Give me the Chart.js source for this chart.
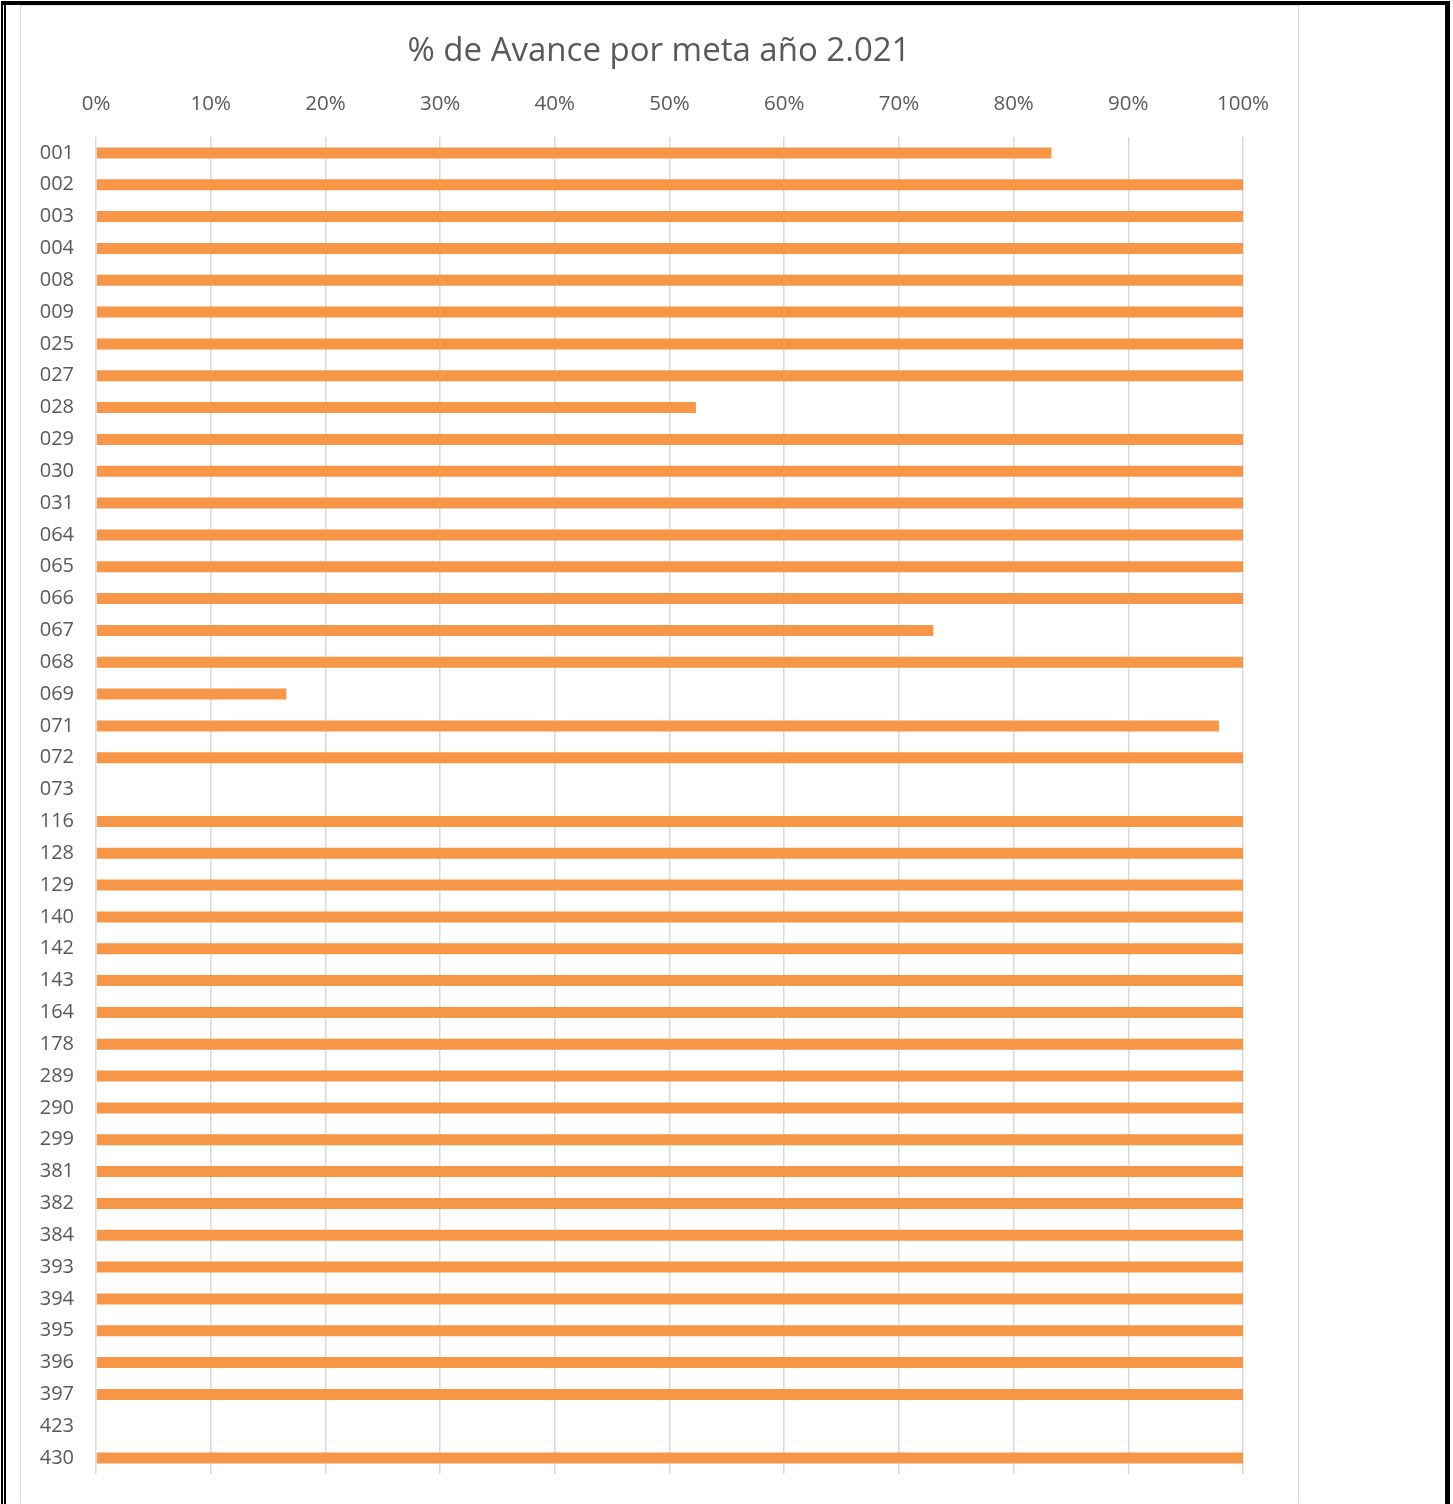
<!DOCTYPE html>
<html>
<head>
<meta charset="utf-8">
<script src="https://cdn.jsdelivr.net/npm/chart.js@4"></script>
<style>
  html, body { margin: 0; padding: 0; background: #fff; }
  body { width: 1453px; height: 1504px; position: relative; overflow: hidden; }
  .b { position: absolute; background: #000; }
  #frame { position: absolute; left: 20px; top: 5px; width: 1279px; height: 1498px; border: 1px solid #d9d9d9; border-bottom: none; box-sizing: border-box; }
  #c { position: absolute; left: 0; top: 0; }
</style>
</head>
<body>
<div class="b" style="left:1px;top:1px;width:1449px;height:4px"></div>
<div class="b" style="left:1px;top:1px;width:2px;height:1503px"></div>
<div class="b" style="left:4px;top:5px;width:2px;height:1499px"></div>
<div class="b" style="left:1445px;top:5px;width:2px;height:1499px"></div>
<div class="b" style="left:1447px;top:1px;width:3px;height:1503px"></div>
<div id="frame"></div>
<canvas id="c" width="1453" height="1504"></canvas>
<script>
const titleText = '% de Avance por meta año 2.021';
const categories = ['001','002','003','004','008','009','025','027','028','029',
  '030','031','064','065','066','067','068','069','071','072',
  '073','116','128','129','140','142','143','164','178','289',
  '290','299','381','382','384','393','394','395','396','397',
  '423','430'];
const avance = [83.3,100,100,100,100,100,100,100,52.3,100,
  100,100,100,100,100,73.0,100,16.6,97.9,100,
  0,100,100,100,100,100,100,100,100,100,
  100,100,100,100,100,100,100,100,100,100,
  0,100];
const xTicks = [0,10,20,30,40,50,60,70,80,90,100];

const FONT = "'Open Sans', 'DejaVu Sans', sans-serif";
const TXT = '#595959';
const TITLE_SIZE = 33;
const TITLE_MID = 52;

const chart = new Chart(document.getElementById('c'), {
  type: 'bar',
  data: {
    labels: categories,
    datasets: [{
      data: avance,
      backgroundColor: '#F79646',
      borderWidth: 0,
      inflateAmount: 0,
      barThickness: 11
    }]
  },
  options: {
    indexAxis: 'y',
    responsive: false,
    animation: false,
    devicePixelRatio: 1,
    layout: { padding: { left: 0, right: 135, top: 0, bottom: 30 } },
    plugins: {
      legend: { display: false },
      tooltip: { enabled: false },
      title: {
        display: true,
        text: titleText,
        color: TXT,
        font: { family: FONT, size: TITLE_SIZE, weight: 'normal', lineHeight: 1.2 },
        padding: { top: TITLE_MID - TITLE_SIZE * 0.6, bottom: 0 }
      }
    },
    scales: {
      x: {
        position: 'top',
        min: 0, max: 100,
        afterBuildTicks: (s) => { s.ticks = xTicks.map(v => ({ value: v })); },
        afterFit: (s) => { s.height = 137 - (TITLE_MID + TITLE_SIZE * 0.6); },
        ticks: {
          color: TXT,
          font: { family: FONT, size: 20.5 },
          padding: 21,
          maxRotation: 0,
          callback: (v) => v + '%'
        },
        grid: { color: '#d9d9d9', lineWidth: 1.5, drawTicks: false },
        border: { display: false }
      },
      y: {
        afterFit: (s) => { s.width = 96; s.paddingTop = 0; s.paddingBottom = 0; },
        ticks: {
          color: TXT,
          font: { family: FONT, size: 20 },
          padding: 22,
          autoSkip: false
        },
        grid: { display: false, drawTicks: false },
        border: { display: false }
      },
      yPad: {
        type: 'linear',
        position: 'right',
        display: true,
        afterFit: (s) => { s.width = 1453 - 135 - 1243; s.paddingTop = 0; s.paddingBottom = 0; },
        ticks: { display: false },
        grid: { display: false, drawTicks: false },
        border: { display: false }
      }
    }
  }
});
</script>
</body>
</html>
